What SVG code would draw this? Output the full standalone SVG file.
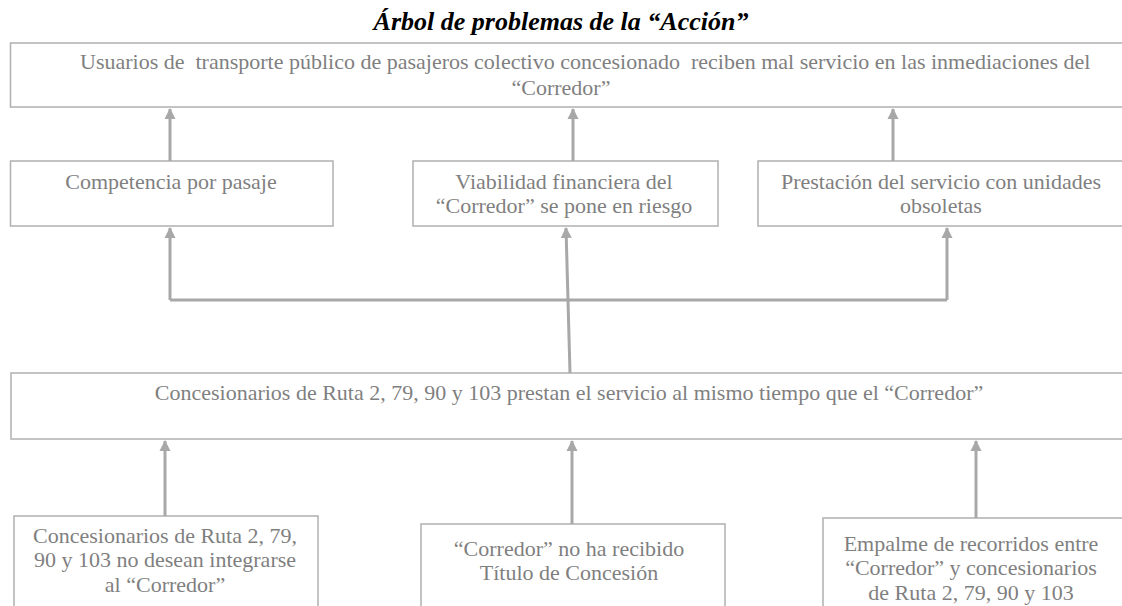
<svg xmlns="http://www.w3.org/2000/svg" width="1122" height="606" viewBox="0 0 1122 606">
<style>
.bg{fill:#ffffff}
.box{fill:#ffffff;stroke:#b0b0b0;stroke-width:1.5}
.t{font-family:"Liberation Serif","Times New Roman",serif;font-size:22px;fill:#7f7f7f;text-anchor:middle;white-space:pre}
.title{font-family:"Liberation Serif","Times New Roman",serif;font-size:26px;font-weight:bold;font-style:italic;fill:#000000;text-anchor:middle}
.c{fill:none;stroke:#a8a8a8;stroke-width:3}
</style>
<defs>
<marker id="ah" markerUnits="userSpaceOnUse" markerWidth="12" markerHeight="12" viewBox="0 0 12 12" refX="10" refY="6" orient="auto">
<path d="M0,0.5 L11,6 L0,11.5 Z" fill="#a8a8a8"/>
</marker>
</defs>
<rect class="bg" x="0" y="0" width="1122" height="606"/>
<text class="title" x="561" y="30">Árbol de problemas de la “Acción”</text>
<g id="effect">
<rect class="box" x="10.5" y="43" width="1120" height="64"/>
<text class="t" x="80" y="69" style="text-anchor:start" xml:space="preserve">Usuarios de  transporte público de pasajeros colectivo concesionado  reciben mal servicio en las inmediaciones del</text>
<text class="t" x="561" y="95">“Corredor”</text>
</g>
<g id="e1">
<rect class="box" x="10.5" y="161" width="322.5" height="65"/>
<text class="t" x="171" y="189">Competencia por pasaje</text>
</g>
<g id="e2">
<rect class="box" x="413" y="161" width="305" height="65"/>
<text class="t" x="564" y="189">Viabilidad financiera del</text>
<text class="t" x="564" y="213">“Corredor” se pone en riesgo</text>
</g>
<g id="e3">
<rect class="box" x="758" y="161" width="370" height="65"/>
<text class="t" x="941" y="189">Prestación del servicio con unidades</text>
<text class="t" x="941" y="213">obsoletas</text>
</g>
<g id="problem">
<rect class="box" x="11" y="373" width="1120" height="66"/>
<text class="t" x="569" y="400">Concesionarios de Ruta 2, 79, 90 y 103 prestan el servicio al mismo tiempo que el “Corredor”</text>
</g>
<g id="c1">
<rect class="box" x="14" y="516" width="304" height="100"/>
<text class="t" x="165" y="543">Concesionarios de Ruta 2, 79,</text>
<text class="t" x="165" y="567">90 y 103 no desean integrarse</text>
<text class="t" x="165" y="592">al “Corredor”</text>
</g>
<g id="c2">
<rect class="box" x="421" y="524" width="304" height="100"/>
<text class="t" x="569" y="556">“Corredor” no ha recibido</text>
<text class="t" x="569" y="580">Título de Concesión</text>
</g>
<g id="c3">
<rect class="box" x="823" y="518" width="305" height="100"/>
<text class="t" x="971" y="551">Empalme de recorridos entre</text>
<text class="t" x="971" y="575">“Corredor” y concesionarios</text>
<text class="t" x="971" y="600">de Ruta 2, 79, 90 y 103</text>
</g>
<g id="connectors">
<line class="c" x1="170" y1="161" x2="170" y2="109" marker-end="url(#ah)"/>
<line class="c" x1="573" y1="161" x2="573" y2="109" marker-end="url(#ah)"/>
<line class="c" x1="893" y1="161" x2="893" y2="109" marker-end="url(#ah)"/>
<polyline class="c" points="170,300 947,300"/>
<line class="c" x1="170" y1="300" x2="170" y2="228" marker-end="url(#ah)"/>
<line class="c" x1="947" y1="300" x2="947" y2="228" marker-end="url(#ah)"/>
<line class="c" x1="570" y1="373" x2="566" y2="228" marker-end="url(#ah)"/>
<line class="c" x1="165" y1="516" x2="165" y2="441" marker-end="url(#ah)"/>
<line class="c" x1="572" y1="524" x2="572" y2="441" marker-end="url(#ah)"/>
<line class="c" x1="976" y1="518" x2="976" y2="441" marker-end="url(#ah)"/>
</g>
</svg>
